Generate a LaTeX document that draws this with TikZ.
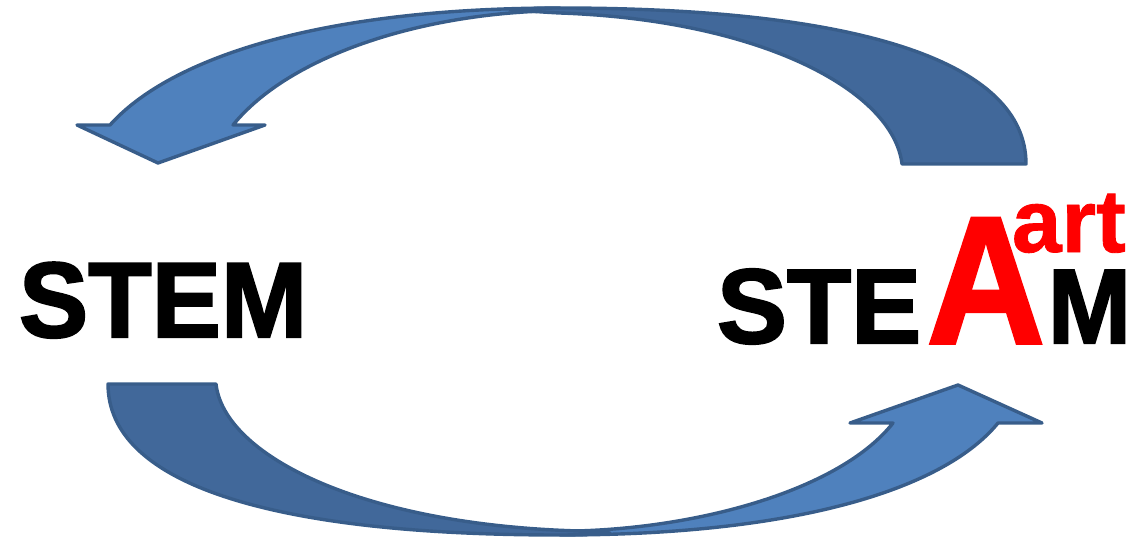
\documentclass[tikz,border=0pt]{standalone}
\usepackage{fontspec}
\setmainfont{Liberation Sans}
\newfontfamily\heavyfont{Liberation Sans Bold}[FakeBold=2]
\newfontfamily\artfont{Liberation Sans Bold}[FakeBold=1]
\definecolor{lightblue}{HTML}{4F81BD}
\definecolor{darkblue}{HTML}{41689A}
\definecolor{edgeblue}{HTML}{385D8A}
\definecolor{artred}{HTML}{FF0000}
\tikzset{
  front/.style={fill=lightblue, draw=edgeblue, line width=3.4pt, line join=round},
  back/.style={fill=darkblue, draw=edgeblue, line width=3.4pt, line join=round},
  word/.style={inner sep=0pt, outer sep=0pt, anchor=base west}
}
\begin{document}
\begin{tikzpicture}[x=1pt,y=-1pt]
\useasboundingbox (0,0) rectangle (1142,540);
% top arrow: front (light) part
\draw[front] (560,8) .. controls (320,8) and (170,58) .. (110,125)
  -- (77,125) -- (158,163) -- (265,125) -- (233,125)
  .. controls (290,55) and (420,15) .. (545,11) -- cycle;
% top arrow: back (dark) part
\draw[back] (902,164) -- (1026,164)
  .. controls (1026,63) and (863,8) .. (560,8)
  .. controls (540,8) and (525,9) .. (510,10)
  .. controls (530,11) and (540,12) .. (560,13)
  .. controls (760,20) and (893,90) .. (902,164) -- cycle;
% bottom arrow: front (light) part
\draw[front] (560,535) .. controls (800,535) and (945,488) .. (998,423)
  -- (1042,423) -- (958,385) -- (850,423) -- (893,423)
  .. controls (840,490) and (700,528) .. (575,531) -- cycle;
% bottom arrow: back (dark) part
\draw[back] (216,384) -- (108,384)
  .. controls (108,482) and (265,535) .. (560,535)
  .. controls (580,535) and (595,534) .. (610,533)
  .. controls (595,532) and (585,531) .. (580,531)
  .. controls (360,525) and (224,455) .. (216,384) -- cycle;
% texts
\node[word, font=\heavyfont\fontsize{107}{107}\selectfont, xscale=0.97] (stem) at (19,337) {STEM};
\node[word, font=\heavyfont\fontsize{106}{106}\selectfont, xscale=0.99] (ste) at (717,343) {STE};
\node[word, font=\heavyfont\fontsize{181}{181}\selectfont, xscale=0.9, text=artred] (a) at (927,343) {A};
\node[word, font=\heavyfont\fontsize{106}{106}\selectfont, xscale=0.94] (m) at (1048,343) {M};
\node[word, font=\artfont\fontsize{89}{89}\selectfont, xscale=1.0, text=artred] (art) at (1012,252) {art};
\end{tikzpicture}
\end{document}
